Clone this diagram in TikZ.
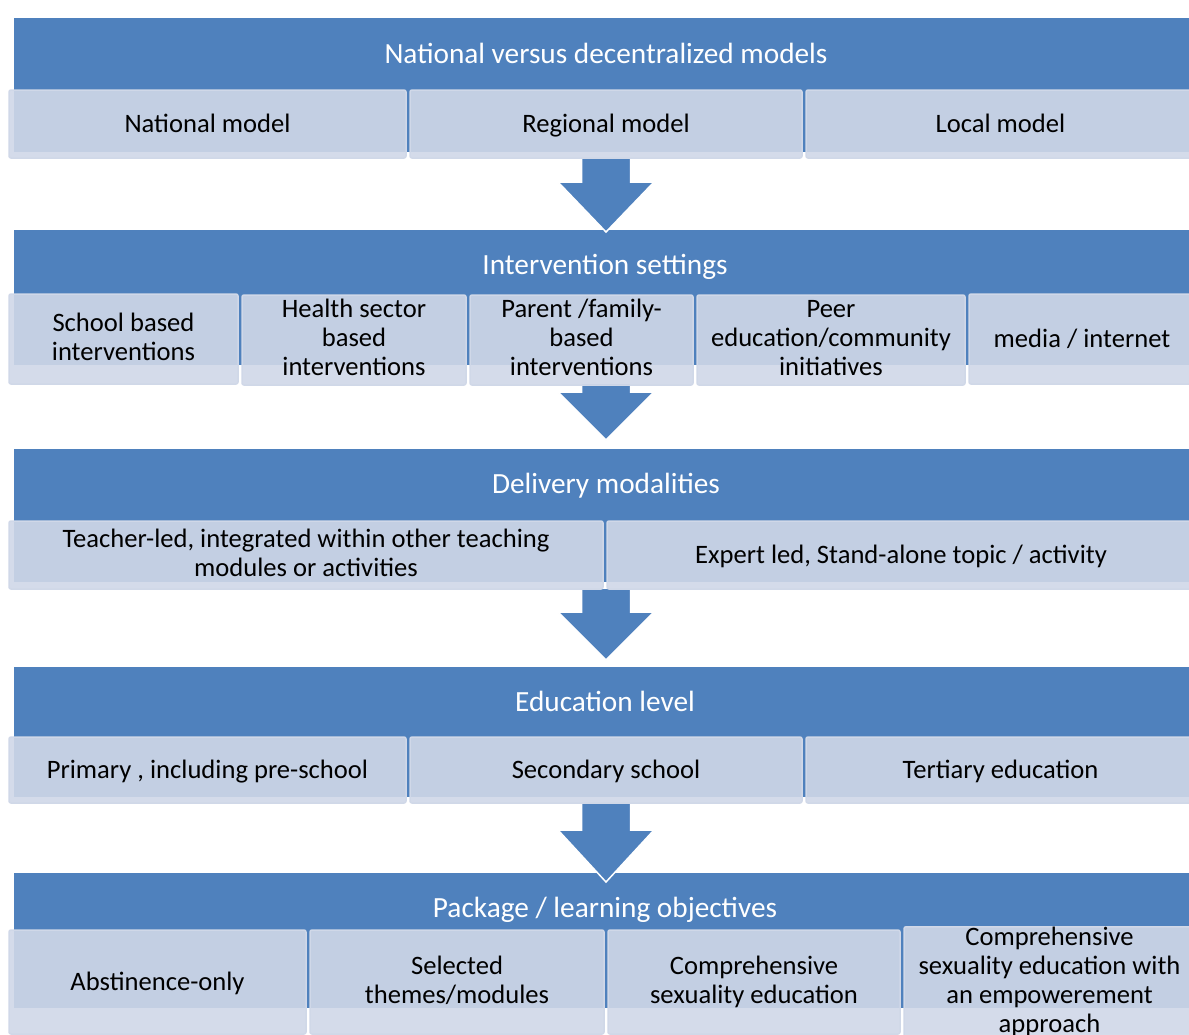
\documentclass[tikz,border=0pt]{standalone}
\usepackage{fontspec}
\setmainfont{Carlito}
\usepackage{xcolor}
\usepackage{tikz}
\usetikzlibrary{calc, positioning}

\definecolor{hdrblue}{HTML}{4F81BD}
\definecolor{boxfill}{HTML}{D0D8E8}

\newcommand{\boxstrut}{\rule[-5pt]{0pt}{27pt}}
\newcommand{\titlestrut}{\rule[-5pt]{0pt}{29pt}}

\newcommand{\flowarrow}[3]{%
  \filldraw[flowarr] ($(#1)+(-24.5,0)$) -- ($(#2)+(-24.5,0)$) -- ($(#2)+(-48,0)$)
    -- (#3) -- ($(#2)+(48,0)$) -- ($(#2)+(24.5,0)$) -- ($(#1)+(24.5,0)$) -- cycle;}

\begin{document}
\begin{tikzpicture}[x=1pt, y=-1pt,
        header/.style={fill=hdrblue, draw=none, inner sep=0pt, minimum width=1181},
        title/.style={text=white, inner sep=0pt, font=\fontsize{29.3}{34}\selectfont,
            execute at begin node=\titlestrut},
        subbox/.style={rectangle, rounded corners=2pt, fill=boxfill, fill opacity=0.9, text opacity=1,
            draw=boxfill, line width=1.5pt, inner sep=0pt, align=center, text=black,
            font=\fontsize{26.6}{29}\selectfont,
            execute at begin node=\boxstrut, execute at end node=\boxstrut},
        flowarr/.style={fill=hdrblue, draw=white, line width=1.5pt, line join=miter}]
                \clip (0,0) rectangle (1189,1034);
                \fill[white] (0,0) rectangle (1189,1034);

                % header bands
                \node[header, minimum height=134] (h1) at (604.5,85) {};
                \node[header, minimum height=135] (h2) at (604.5,297.5) {};
                \node[header, minimum height=133] (h3) at (604.5,515.5) {};
                \node[header, minimum height=130] (h4) at (604.5,732) {};
                \node[header, minimum height=135] (h5) at (604.5,940.5) {};

                \node[title] (t1) at (606,54) {National versus decentralized models};
                \node[title] (t2) at (605,265) {Intervention settings};
                \node[title] (t3) at (606,484) {Delivery modalities};
                \node[title] (t4) at (605,702) {Education level};
                \node[title] (t5) at (605,908) {Package / learning objectives};

                % block arrows
                \coordinate (a1s) at (606,158);
                \coordinate (a1h) at (606,182);
                \coordinate (a1t) at (606,232);
                \coordinate (a2s) at (606,383);
                \coordinate (a2h) at (606,392);
                \coordinate (a2t) at (606,440);
                \coordinate (a3s) at (606,588);
                \coordinate (a3h) at (606,612);
                \coordinate (a3t) at (606,660);
                \coordinate (a4s) at (606,803);
                \coordinate (a4h) at (606,830);
                \coordinate (a4t) at (606,882);
                \flowarrow{a1s}{a1h}{a1t}
                \flowarrow{a2s}{a2h}{a2t}
                \flowarrow{a3s}{a3h}{a3t}
                \flowarrow{a4s}{a4h}{a4t}

                % row 1
                \node[subbox, minimum width=397, minimum height=68] (nat) at (207.5,124) {National model};
                \node[subbox, minimum width=392, minimum height=68] (reg) at (606,124) {Regional model};
                \node[subbox, minimum width=389, minimum height=68] (loc) at (1000.5,124) {Local model};

                % row 2
                \node[subbox, minimum width=229, minimum height=90] (school) at (123.5,339) {School based\\interventions};
                \node[subbox, minimum width=224, minimum height=90] (health) at (354,340) {Health sector\\based\\interventions};
                \node[subbox, minimum width=223, minimum height=90] (parent) at (581.5,340) {Parent /family-\\based\\interventions};
                \node[subbox, minimum width=268, minimum height=90] (peer) at (831,340) {Peer\\education/community\\initiatives};
                \node[subbox, minimum width=226, minimum height=90] (media) at (1082,339) {media / internet};

                % row 3
                \node[subbox, minimum width=594, minimum height=68] (teacher) at (306,555) {Teacher-led, integrated within other teaching\\modules or activities};
                \node[subbox, minimum width=588, minimum height=68] (expert) at (901,555) {Expert led, Stand-alone topic / activity};

                % row 4
                \node[subbox, minimum width=397, minimum height=66] (prim) at (207.5,770) {Primary , including pre-school};
                \node[subbox, minimum width=392, minimum height=66] (sec) at (606,770) {Secondary school};
                \node[subbox, minimum width=389, minimum height=66] (tert) at (1000.5,770) {Tertiary education};

                % row 5
                \node[subbox, minimum width=297, minimum height=104] (abst) at (157.5,982) {Abstinence-only};
                \node[subbox, minimum width=294, minimum height=104] (sel) at (457,982) {Selected\\themes/modules};
                \node[subbox, minimum width=292, minimum height=104] (cse) at (754,982) {Comprehensive\\sexuality education};
                \node[subbox, minimum width=291, minimum height=110] (csee) at (1049.5,982) {Comprehensive\\sexuality education with\\an empowerement\\approach};
            \end{tikzpicture}
\end{document}
